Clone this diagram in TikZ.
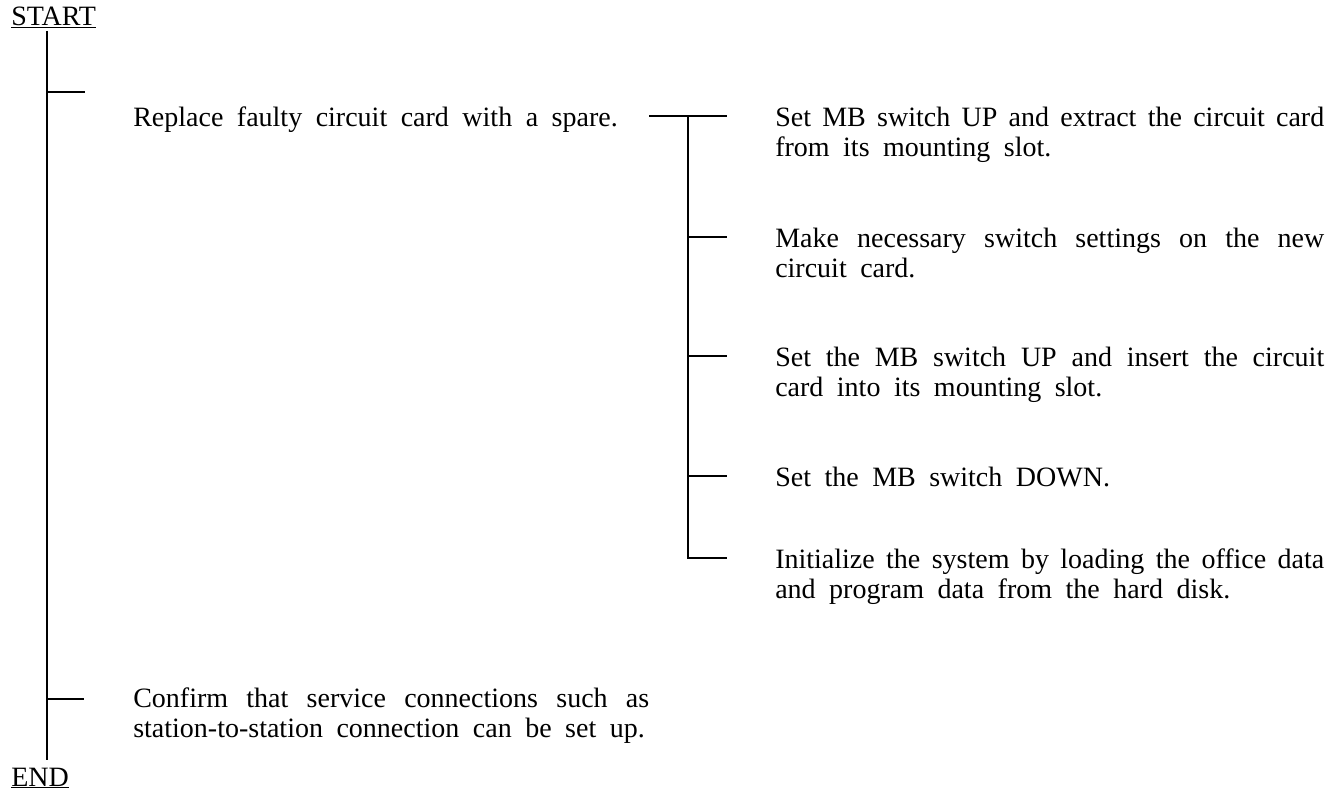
\documentclass[tikz,border=0pt]{standalone}
\usepackage{fontspec}
\setmainfont{Liberation Serif}
\usepackage{tikz}

\begin{document}
\begin{tikzpicture}[x=1pt,y=-1pt,line width=2.5pt,
  font={\fontsize{28}{30.5}\selectfont\spaceskip=13.5pt plus 8pt minus 3pt},
  endtag/.style={anchor=base west,inner sep=0pt},
  leftnote/.style={anchor=base west,inner sep=0pt,text width=516pt,align=justify},
  rightnote/.style={anchor=base west,inner sep=0pt,text width=549pt,align=justify}]
\useasboundingbox (0,0) rectangle (1343,800);
\node[endtag] (start) at (10,26) {\underline{START}};
\node[endtag] (end) at (10,786) {\underline{END}};
\coordinate (top) at (47,31);
\coordinate (bottom) at (47,760);
\coordinate (stubA) at (47,92);
\coordinate (stubAend) at (85,92);
\coordinate (stubB) at (47,699);
\coordinate (stubBend) at (84,699);
\draw (top)--(bottom);
\draw (stubA)--(stubAend);
\draw (stubB)--(stubBend);
\node[endtag] (replace) at (132,126) {Replace faulty circuit card with a spare.};
\node[leftnote] (confirm) at (132,707) {Confirm that service connections such as station-to-station connection can be set up.};
\coordinate (barL) at (649,116);
\coordinate (fork) at (688,116);
\coordinate (barR) at (727,116);
\coordinate (forkB) at (688,237);
\coordinate (forkBend) at (727,237);
\coordinate (forkC) at (688,356);
\coordinate (forkCend) at (727,356);
\coordinate (forkD) at (688,476);
\coordinate (forkDend) at (727,476);
\coordinate (forkE) at (688,558);
\coordinate (forkEend) at (727,558);
\draw (barL)--(barR);
\draw (fork)--(forkE)--(forkEend);
\draw (forkB)--(forkBend);
\draw (forkC)--(forkCend);
\draw (forkD)--(forkDend);
\node[rightnote] (extract) at (774,126) {Set MB switch UP and extract the circuit card from its mounting slot.};
\node[rightnote] (settings) at (774,247) {Make necessary switch settings on the new circuit card.};
\node[rightnote] (insert) at (774,366) {Set the MB switch UP and insert the circuit card into its mounting slot.};
\node[rightnote] (down) at (774,486) {Set the MB switch DOWN.};
\node[rightnote] (init) at (774,568) {Initialize the system by loading the office data and program data from the hard disk.};
\end{tikzpicture}
\end{document}
